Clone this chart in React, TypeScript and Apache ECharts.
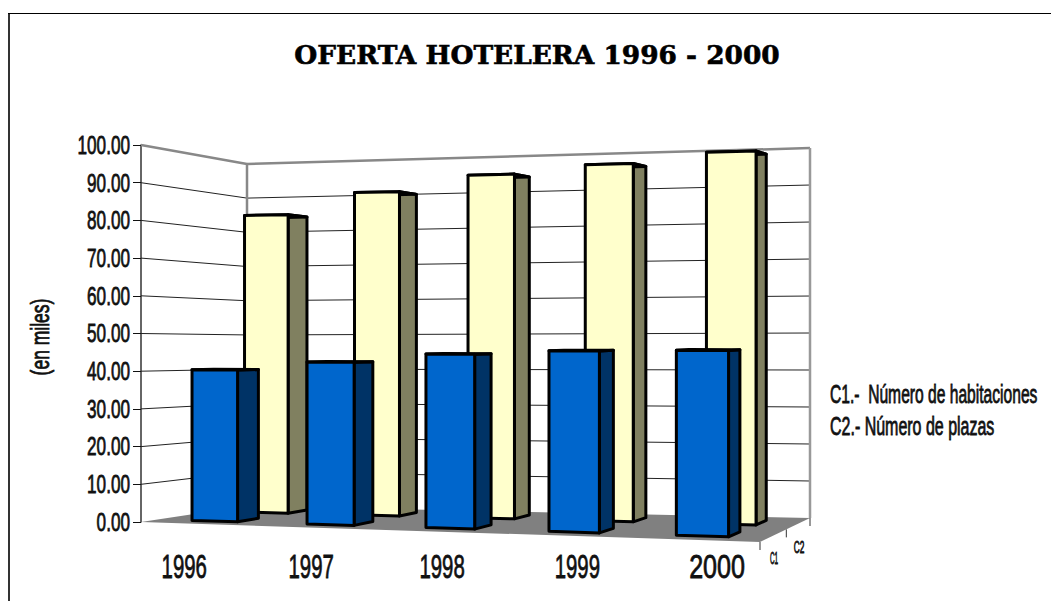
import React, { useEffect, useRef } from "react";
import * as echarts from "echarts";

const categories = ["1996", "1997", "1998", "1999", "2000"];
const habitaciones = [40.4, 42.7, 45, 46, 46.3];
const plazas = [83.5, 89.3, 93.4, 95.5, 98];
const tickValues = [0, 10, 20, 30, 40, 50, 60, 70, 80, 90, 100];
const tickLabels = ["0.00", "10.00", "20.00", "30.00", "40.00", "50.00", "60.00", "70.00", "80.00", "90.00", "100.00"];
const titleText = "OFERTA HOTELERA 1996 - 2000";
const axisTitle = "(en miles)";
const legendLines = ["C1.-  Número de habitaciones", "C2.- Número de plazas"];
const depthLabels = ["C1", "C2"];

const GRID = { left: 141, top: 145, width: 619, height: 377 };
const NARROW = '"Liberation Sans", sans-serif';

// floor corners in pixels: front-left, front-right, back-left, back-right
const C00 = [141, 522], C10 = [760, 542], C01 = [247, 506], C11 = [810, 518];
const W00 = 1, W10 = 0.917, W01 = 1.102, W11 = 1.019;

function bil(a: number, b: number, c: number, d: number, X: number, Z: number) {
  return a * (1 - X) * (1 - Z) + b * X * (1 - Z) + c * (1 - X) * Z + d * X * Z;
}
function project(X: number, Y: number, Z: number): number[] {
  const w = bil(W00, W10, W01, W11, X, Z);
  const nx = bil(C00[0] * W00, C10[0] * W10, C01[0] * W01, C11[0] * W11, X, Z);
  const ny = bil(C00[1] * W00, C10[1] * W10, C01[1] * W01, C11[1] * W11, X, Z);
  return [nx / w, (ny - GRID.height * Y) / w];
}
function toUnit(p: number[]) {
  return [(p[0] - GRID.left) / GRID.width, (GRID.top + GRID.height - p[1]) / GRID.height];
}

function barItem(zFront: number, zBack: number, front: string, side: string, top: string) {
  return (_: any, api: any) => {
    const cat = api.value(0);
    const val = api.value(1);
    const [xc, y] = toUnit(api.coord([cat, val]));
    const band = api.size([1, 0])[0] / GRID.width;
    const x0 = xc - band * 0.2;
    const x1 = xc + band * 0.2;
    const poly = (pts: number[][], fill: string) => ({
      type: "polygon",
      shape: { points: pts },
      style: { fill, stroke: "#000", lineWidth: 3, lineJoin: "round" },
    });
    return {
      type: "group",
      children: [
        poly([project(x1, 0, zFront), project(x1, 0, zBack), project(x1, y, zBack), project(x1, y, zFront)], side),
        poly([project(x0, y, zFront), project(x1, y, zFront), project(x1, y, zBack), project(x0, y, zBack)], top),
        poly([project(x0, 0, zFront), project(x1, 0, zFront), project(x1, y, zFront), project(x0, y, zFront)], front),
      ],
    };
  };
}

function condensed(text: string, x: number, y: number, size: number, scaleX: number, align = "left", rotation = 0) {
  return {
    type: "text",
    x,
    y,
    scaleX,
    rotation,
    silent: true,
    style: {
      text,
      fill: "#111",
      font: `${size}px ${NARROW}`,
      align,
      verticalAlign: "middle",
      stroke: "#111",
      lineWidth: 0.8,
    },
  };
}

export default function App() {
  const ref = useRef<HTMLDivElement>(null);
  useEffect(() => {
    const chart = echarts.init(ref.current!, undefined, { renderer: "svg" });
    chart.setOption({
      animation: false,
      backgroundColor: "#fff",
      title: {
        text: titleText,
        left: 537,
        top: 36,
        textAlign: "center",
        textStyle: {
          fontFamily: '"DejaVu Serif", serif',
          fontWeight: "bold",
          fontSize: 26.4,
          color: "#000",
          textBorderColor: "#000",
          textBorderWidth: 0.6,
        },
      },
      grid: { ...GRID, containLabel: false },
      xAxis: { type: "category", data: categories, show: false },
      yAxis: {
        type: "value",
        min: 0,
        max: 100,
        interval: 10,
        splitLine: { show: false },
        axisLine: { show: true, lineStyle: { color: "#333", width: 1.5 } },
        axisTick: { show: true, length: 8, lineStyle: { color: "#111", width: 1 } },
        axisLabel: { show: false },
      },
      graphic: [
        {
          type: "line",
          silent: true,
          shape: { x1: 9, y1: 13, x2: 9, y2: 601 },
          style: { stroke: "#333", lineWidth: 2 },
        },
        {
          type: "line",
          silent: true,
          shape: { x1: 8, y1: 13.5, x2: 1051, y2: 13.5 },
          style: { stroke: "#000", lineWidth: 1 },
        },
        ...tickLabels.map((t, i) =>
          condensed(t, 130, GRID.top + GRID.height * (1 - tickValues[i] / 100), 26, 0.66, "right")
        ),
        condensed(axisTitle, 40, 337, 25, 0.7, "center", Math.PI / 2),
        condensed(legendLines[0], 830, 394, 25, 0.625),
        condensed(legendLines[1], 830, 426, 25, 0.64),
        condensed(depthLabels[0], 774, 559, 16, 0.4, "center"),
        condensed(depthLabels[1], 799, 547, 16, 0.52, "center"),
      ],
      series: [
        {
          type: "custom",
          coordinateSystem: "cartesian2d",
          z: 1,
          data: [[0, 0]],
          renderItem: (_: any, api: any) => {
            const children: any[] = [];
            const line = (a: number[], b: number[], stroke: string, lineWidth: number) => ({
              type: "line",
              shape: { x1: a[0], y1: a[1], x2: b[0], y2: b[1] },
              style: { stroke, lineWidth },
            });
            children.push({
              type: "polygon",
              shape: { points: [project(0, 0, 0), project(1, 0, 0), project(1, 0, 1), project(0, 0, 1)] },
              style: { fill: "#808080", stroke: "none" },
            });
            tickValues.forEach((v) => {
              const y = toUnit(api.coord([0, v]))[1];
              const isTop = v === 100;
              const stroke = isTop ? "#888" : "#222";
              const lw = isTop ? 2.5 : 1;
              if (v > 0) {
                children.push(line(project(0, y, 0), project(0, y, 1), stroke, lw));
                children.push(line(project(0, y, 1), project(1, y, 1), stroke, lw));
              }
            });
            children.push(line(project(0, 0, 1), project(0, 1, 1), "#888", 2.5));
            children.push(line(project(1, 0, 1), project(1, 1, 1), "#999", 2.5));
            // floor ticks
            children.push(line(project(1, 0, 0), [project(1, 0, 0)[0], project(1, 0, 0)[1] + 8], "#333", 1));
            children.push(line(project(1, 0, 0.5), [project(1, 0, 0.5)[0], project(1, 0, 0.5)[1] + 8], "#333", 1));
            children.push(line(project(1, 0, 1), [project(1, 0, 1)[0], project(1, 0, 1)[1] + 8], "#333", 1));
            return { type: "group", children };
          },
        },
        {
          type: "custom",
          coordinateSystem: "cartesian2d",
          z: 2,
          data: plazas.map((v, i) => [i, v]),
          renderItem: barItem(0.65, 0.85, "#FFFFCC", "#808060", "#BFBF96"),
        },
        {
          type: "custom",
          coordinateSystem: "cartesian2d",
          z: 3,
          data: habitaciones.map((v, i) => [i, v]),
          renderItem: barItem(0.15, 0.35, "#0066CC", "#003366", "#004C99"),
        },
        {
          type: "custom",
          coordinateSystem: "cartesian2d",
          z: 4,
          data: categories.map((c, i) => [i, 0, c]),
          renderItem: (params: any, api: any) => {
            const [xc] = toUnit(api.coord([api.value(0), 0]));
            const p = project(xc, 0, 0);
            const i = params.dataIndex;
            const label = categories[i];
            return condensed(label, p[0] - 14 + 9.5 * i, 566, 34, i === 4 ? 0.74 : 0.6, "center");
          },
        },
      ],
    });
    chart.setOption({ title: { left: 532 } });
    return () => chart.dispose();
  }, []);
  return <div ref={ref} style={{ position: "absolute", left: 0, top: 0, width: 1051, height: 601 }} />;
}
